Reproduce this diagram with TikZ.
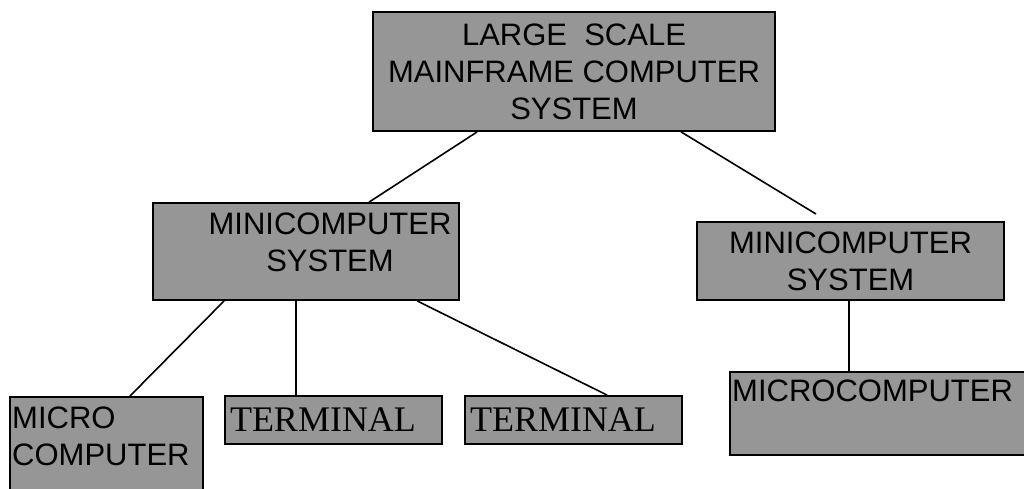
\documentclass[tikz,border=0pt]{standalone}
\usepackage{fontspec}
\setmainfont{Liberation Serif}
\newfontfamily\arialfont{Liberation Sans}
\usetikzlibrary{positioning, calc}
\definecolor{boxgray}{RGB}{150,150,150}

\begin{document}
\begin{tikzpicture}[x=1pt, y=-1pt]

  % Define box and text styles
  \tikzset{
    box/.style={rectangle, draw, line width=1.8pt, fill=boxgray, inner sep=0pt},
    sans text/.style={font=\arialfont\fontsize{31}{37}\selectfont, align=center},
    serif text/.style={font=\fontsize{36}{43}\selectfont, align=left},
    link/.style={line width=1.6pt},
  }

  \useasboundingbox (0,0) rectangle (1024,489);

  % Mainframe at the top
  \node[box, sans text, minimum width=402pt, minimum height=119pt] (main) at (574,71.5)
    {LARGE\ \ SCALE\\MAINFRAME COMPUTER\\SYSTEM};

  % Minicomputer systems
  \node[box, minimum width=306pt, minimum height=97pt] (minL) at (306,251.5) {};
  \node[sans text, inner sep=0pt] (minL-txt) at (330,242) {MINICOMPUTER\\SYSTEM};
  \node[box, sans text, minimum width=307pt, minimum height=78pt] (minR) at (850.5,261)
    {MINICOMPUTER\\SYSTEM};

  % Bottom row
  \node[box, anchor=north west, minimum width=193pt, minimum height=120pt] (micro) at (9,396) {};
  \node[sans text, align=left, inner sep=0pt, anchor=north west] (micro-txt)
    at ([xshift=3pt, yshift=-11pt]micro.north west) {MICRO\\COMPUTER};
  \node[box, serif text, text width=207pt, inner xsep=5pt, minimum height=48pt] (term1) at (333.5,420) {TERMINAL};
  \node[box, serif text, text width=207pt, inner xsep=5pt, minimum height=48pt] (term2) at (573.5,420) {TERMINAL};
  \node[box, anchor=north west, minimum width=310pt, minimum height=83pt] (microR) at (729,371) {};
  \node[sans text, inner sep=0pt, anchor=north west] (microR-txt)
    at ([xshift=3pt, yshift=-9pt]microR.north west) {MICROCOMPUTER};

  % Connectors
  \coordinate (gap) at (816,214);
  \draw[link] ([xshift=105pt]main.south west) -- ([xshift=217pt]minL.north west);
  \draw[link] ([xshift=309pt]main.south west) -- (gap);
  \draw[link] ([xshift=72pt]minL.south west) -- ([xshift=121pt]micro.north west);
  \draw[link] ([xshift=144pt]minL.south west) -- ([xshift=72pt]term1.north west);
  \draw[link] ([xshift=265pt]minL.south west) -- ([xshift=143pt]term2.north west);
  \draw[link] ([xshift=120pt]microR.north west) -- ([xshift=120pt]microR.north west |- minR.south);

\end{tikzpicture}
\end{document}
